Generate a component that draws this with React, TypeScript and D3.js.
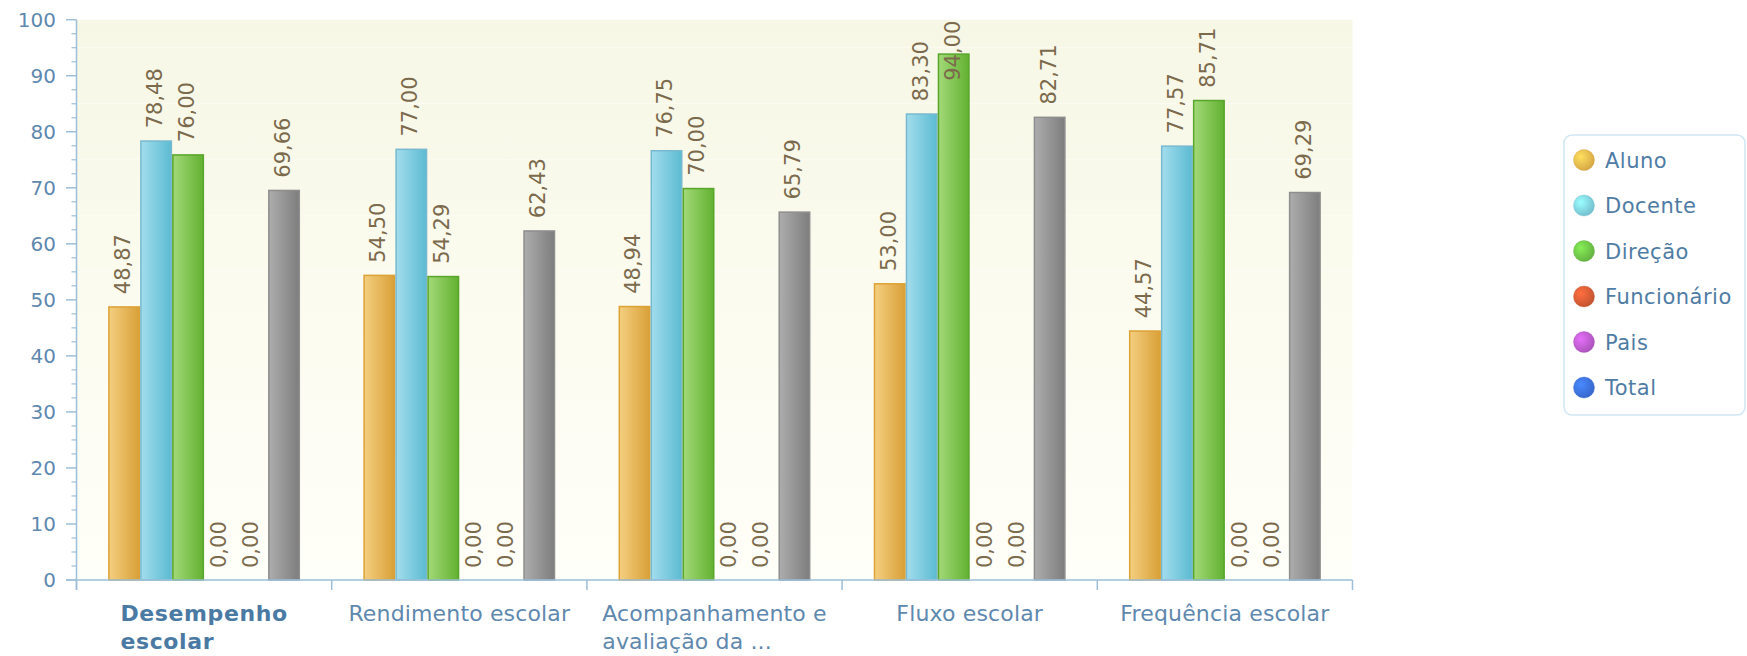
import React from 'react';
import * as d3 from 'd3';

const categories = [
  'Desempenho escolar',
  'Rendimento escolar',
  'Acompanhamento e avaliação da ...',
  'Fluxo escolar',
  'Frequência escolar',
];
const categoryLines = [
  ['Desempenho', 'escolar'],
  ['Rendimento escolar'],
  ['Acompanhamento e', 'avaliação da ...'],
  ['Fluxo escolar'],
  ['Frequência escolar'],
];
const seriesNames = ['Aluno', 'Docente', 'Direção', 'Funcionário', 'Pais', 'Total'];
const aluno = [48.87, 54.5, 48.94, 53.0, 44.57];
const docente = [78.48, 77.0, 76.75, 83.3, 77.57];
const direcao = [76.0, 54.29, 70.0, 94.0, 85.71];
const funcionario = [0, 0, 0, 0, 0];
const pais = [0, 0, 0, 0, 0];
const total = [69.66, 62.43, 65.79, 82.71, 69.29];
const seriesValues = [aluno, docente, direcao, funcionario, pais, total];
const yTicks = [0, 10, 20, 30, 40, 50, 60, 70, 80, 90, 100];

// bar styling: [light, dark, border]
const barStyles = [
  ['#f4cf80', '#d9a038', '#dca236'],
  ['#a2dded', '#5cbbd2', '#78b9cf'],
  ['#a3d978', '#62b131', '#58a62b'],
  ['#e07a55', '#c44a22', '#c04a25'],
  ['#c77ad6', '#a444b8', '#a048b4'],
  ['#adadad', '#7d7d7d', '#8e8e8e'],
];
const legendColors = ['#e9b44c', '#7dcde0', '#6cc046', '#d35a34', '#b95ac9', '#3b6fde'];

const W = 1747;
const H = 656;
const plot = { left: 76.5, right: 1352.5, top: 19.7, bottom: 580 };
const axisColor = '#9dbfd9';
const tickTextColor = '#5f88ae';
const valueColor = '#7b6a4c';
const FONT = '"DejaVu Sans", Verdana, sans-serif';
const VAL_FS = 21;

const fmt = (v: number) => d3.format('.2f')(v).replace('.', ',');
const estLen = (s: string, fs: number) =>
  s.split('').reduce((a, c) => a + (c === ',' ? 0.318 : 0.636), 0) * fs;

export default function App() {
  const x0 = d3
    .scaleBand<string>()
    .domain(categories)
    .range([plot.left, plot.right])
    .paddingInner(0.248)
    .paddingOuter(0.124);
  const x1 = d3.scaleBand<string>().domain(seriesNames).range([0, x0.bandwidth()]);
  const y = d3.scaleLinear().domain([0, 100]).range([plot.bottom, plot.top]);
  const step = x0.step();
  const gap = (step - x0.bandwidth()) / 2;
  const boundaries = categories.map((c) => (x0(c) as number) - gap).concat([plot.right]);
  const minorTicks = d3.range(0, 100.001, 2.5).filter((v) => v % 10 !== 0);

  return (
    <svg
      width={W}
      height={H}
      style={{ position: 'absolute', left: 0, top: 0, background: '#fff' }}
      fontFamily={FONT}
    >
      <defs>
        <linearGradient id="bgGrad" x1="0" y1="0" x2="0" y2="1">
          <stop offset="0" stopColor="#f7f7e6" />
          <stop offset="0.5" stopColor="#fbfbef" />
          <stop offset="1" stopColor="#fffff9" />
        </linearGradient>
        {barStyles.map((s, i) => (
          <linearGradient key={i} id={`barGrad${i}`} x1="0" y1="0" x2="1" y2="0">
            <stop offset="0" stopColor={s[0]} />
            <stop offset="1" stopColor={s[1]} />
          </linearGradient>
        ))}
        {legendColors.map((c, i) => (
          <radialGradient key={i} id={`legGrad${i}`} cx="0.35" cy="0.35" r="0.75">
            <stop offset="0" stopColor={d3.color(c)!.brighter(0.6).formatHex()} />
            <stop offset="1" stopColor={d3.color(c)!.darker(0.3).formatHex()} />
          </radialGradient>
        ))}
      </defs>

      {/* plot background */}
      <rect
        x={plot.left}
        y={plot.top}
        width={plot.right - plot.left}
        height={plot.bottom - plot.top}
        fill="url(#bgGrad)"
      />
      {yTicks.slice(1).map((t) => (
        <line
          key={`g${t}`}
          x1={plot.left}
          x2={plot.right}
          y1={y(t - 5)}
          y2={y(t - 5)}
          stroke="#ffffff"
          strokeOpacity={0.5}
          strokeWidth={1}
        />
      ))}

      {/* bars */}
      {categories.map((c, ci) =>
        seriesNames.map((s, si) => {
          const v = seriesValues[si][ci];
          const bx = (x0(c) as number) + (x1(s) as number);
          const bw = x1.bandwidth();
          const by = y(v);
          return v > 0 ? (
            <rect
              key={`b${ci}-${si}`}
              x={bx + 0.75}
              y={by + 0.75}
              width={bw - 1.5}
              height={y(0) - by - 0.75}
              fill={`url(#barGrad${si})`}
              stroke={barStyles[si][2]}
              strokeWidth={1.5}
            />
          ) : null;
        })
      )}

      {/* value labels */}
      {categories.map((c, ci) =>
        seriesNames.map((s, si) => {
          const v = seriesValues[si][ci];
          const label = fmt(v);
          const cx = (x0(c) as number) + (x1(s) as number) + x1.bandwidth() / 2;
          const len = estLen(label, VAL_FS);
          const sy = Math.max(y(v) - 12, plot.top + len + 1);
          return (
            <text
              key={`l${ci}-${si}`}
              transform={`translate(${cx},${sy}) rotate(-90)`}
              dy="0.28em"
              fontSize={VAL_FS}
              fill={valueColor}
              textAnchor="start"
            >
              {label}
            </text>
          );
        })
      )}

      {/* y axis */}
      <line x1={plot.left} x2={plot.left} y1={plot.top} y2={plot.bottom + 10} stroke={axisColor} strokeWidth={1.5} />
      {yTicks.map((t) => (
        <g key={`yt${t}`}>
          <line x1={plot.left - 10.5} x2={plot.left} y1={y(t)} y2={y(t)} stroke={axisColor} strokeWidth={1.5} />
          <text
            x={56}
            y={y(t)}
            dy="0.36em"
            textAnchor="end"
            fontSize={20}
            fill={tickTextColor}
          >
            {t}
          </text>
        </g>
      ))}
      {minorTicks.map((t) => (
        <line
          key={`ym${t}`}
          x1={plot.left - 5}
          x2={plot.left}
          y1={y(t)}
          y2={y(t)}
          stroke={axisColor}
          strokeWidth={1.2}
        />
      ))}

      {/* x axis */}
      <line x1={plot.left - 10.5} x2={plot.right} y1={plot.bottom} y2={plot.bottom} stroke={axisColor} strokeWidth={1.5} />
      {boundaries.map((bx, i) => (
        <line key={`xt${i}`} x1={bx} x2={bx} y1={plot.bottom} y2={plot.bottom + 10} stroke={axisColor} strokeWidth={1.5} />
      ))}
      {categories.map((c, ci) => {
        const lines = categoryLines[ci];
        const bold = ci === 0;
        const fs = 22;
        const cx = (x0(c) as number) + x0.bandwidth() / 2;
        return <CategoryLabel key={`cl${ci}`} cx={cx} lines={lines} bold={bold} fs={fs} />;
      })}

      {/* legend */}
      <rect x={1564} y={135} width={181} height={280} rx={8} ry={8} fill="#fff" stroke="#cfe6f4" strokeWidth={1.5} />
      {seriesNames.map((s, i) => (
        <g key={`lg${i}`} transform={`translate(0,${160 + i * 45.5})`}>
          <circle cx={1584} cy={0} r={10.5} fill={`url(#legGrad${i})`} stroke={d3.color(legendColors[i])!.darker(0.2).formatHex()} strokeOpacity={0.4} />
          <text x={1605} y={0} dy="0.36em" fontSize={21} fill="#4f7ca5" letterSpacing={0.5}>
            {s}
          </text>
        </g>
      ))}
    </svg>
  );
}

function CategoryLabel({
  cx,
  lines,
  bold,
  fs,
}: {
  cx: number;
  lines: string[];
  bold: boolean;
  fs: number;
}) {
  const ref = React.useRef<SVGTextElement>(null);
  const [w, setW] = React.useState(0);
  React.useLayoutEffect(() => {
    if (!ref.current) return;
    const tspans = ref.current.querySelectorAll('tspan');
    let m = 0;
    tspans.forEach((t) => {
      m = Math.max(m, (t as SVGTextContentElement).getComputedTextLength());
    });
    setW(m);
  }, [lines.join('|')]);
  const left = cx - w / 2;
  return (
    <text
      ref={ref}
      fontSize={fs}
      fontWeight={bold ? 'bold' : 'normal'}
      fill={bold ? '#4a7aa3' : tickTextColor}
      letterSpacing={bold ? 0.6 : 0.15}
    >
      {lines.map((l, i) => (
        <tspan key={i} x={left} y={621 + i * 28}>
          {l}
        </tspan>
      ))}
    </text>
  );
}
